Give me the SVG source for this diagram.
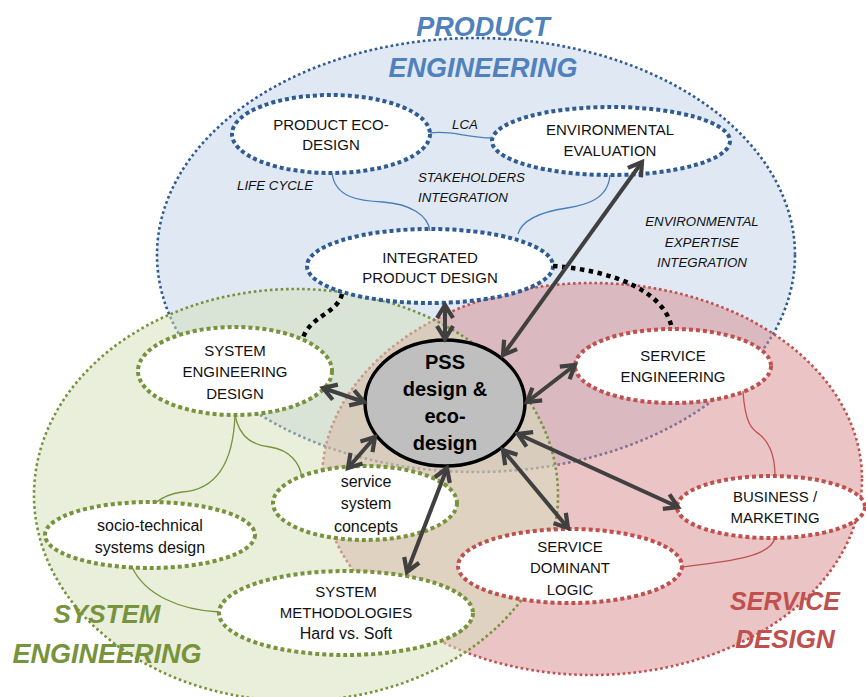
<svg xmlns="http://www.w3.org/2000/svg" width="866" height="697" viewBox="0 0 866 697">
<defs>
<style>
.area{stroke-width:2.6;stroke-dasharray:2.6 2.8}
.node{fill:#ffffff;stroke-width:4;stroke-dasharray:4 3}
.nb{stroke:#2f5b94}
.ng{stroke:#77933c}
.nr{stroke:#c0504d}
.t{font-family:"Liberation Sans",Arial,sans-serif;font-size:15px;fill:#111;text-anchor:middle}
.tl{font-family:"Liberation Sans",Arial,sans-serif;font-size:16px;fill:#111;text-anchor:middle}
.lab{font-family:"Liberation Sans",Arial,sans-serif;font-size:13.3px;font-style:italic;fill:#111}
.title{font-family:"Liberation Sans",Arial,sans-serif;font-weight:bold;font-style:italic;text-anchor:middle}
.pss{font-family:"Liberation Sans",Arial,sans-serif;font-size:20px;font-weight:bold;fill:#000;text-anchor:middle}
.thin{fill:none;stroke-width:1.3}
.arr{fill:none;stroke:#404040;stroke-width:4;marker-start:url(#ah);marker-end:url(#ah)}
.blk{fill:none;stroke:#000;stroke-width:4.5;stroke-dasharray:4.5 4.5}
</style>
<marker id="ah" markerUnits="userSpaceOnUse" viewBox="-16 -10 20 20" refX="0" refY="0" markerWidth="20" markerHeight="20" orient="auto-start-reverse">
<path d="M-13,-8 L0,0 L-13,8" fill="none" stroke="#404040" stroke-width="4.2" stroke-linejoin="miter"/>
</marker>
</defs>

<g id="areas">
<g id="area-product">
<ellipse cx="476" cy="255" rx="319" ry="217" fill="#4f81bd" fill-opacity="0.18" stroke="#2f5b94" class="area"/>
</g>
<g id="area-service">
<ellipse cx="592" cy="479" rx="270" ry="196" fill="#d7898d" fill-opacity="0.5" stroke="#c0504d" class="area"/>
</g>
<g id="area-system">
<ellipse cx="296" cy="495" rx="262" ry="206" fill="#d5dfb9" fill-opacity="0.5" stroke="#77933c" class="area"/>
</g>
</g>

<g id="titles">
<text class="title" x="483" y="36" font-size="27" fill="#4f81bd">PRODUCT</text>
<text class="title" x="483" y="77" font-size="27" fill="#4f81bd">ENGINEERING</text>
<text class="title" x="107" y="623" font-size="26" fill="#77933c">SYSTEM</text>
<text class="title" x="107" y="663" font-size="27" fill="#77933c">ENGINEERING</text>
<text class="title" x="785" y="610" font-size="25" fill="#c0504d">SERVICE</text>
<text class="title" x="785" y="648" font-size="26" fill="#c0504d">DESIGN</text>
</g>

<g id="labels">
<text class="lab" x="452" y="129" font-size="13.5">LCA</text>
<text class="lab" x="237" y="190">LIFE CYCLE</text>
<text class="lab" x="418" y="182">STAKEHOLDERS</text>
<text class="lab" x="418" y="202">INTEGRATION</text>
<text class="lab" x="702" y="226" text-anchor="middle" font-size="14.5">ENVIRONMENTAL</text>
<text class="lab" x="702" y="247" text-anchor="middle" font-size="14.5">EXPERTISE</text>
<text class="lab" x="702" y="267" text-anchor="middle" font-size="14.5">INTEGRATION</text>
</g>

<g id="node-eco-design">
<ellipse class="node nb" cx="331" cy="134" rx="99" ry="39"/>
<text class="t" x="331" y="130">PRODUCT ECO-</text>
<text class="t" x="331" y="150">DESIGN</text>
</g>
<g id="node-env-eval">
<ellipse class="node nb" cx="611" cy="141" rx="119" ry="34"/>
<text class="t" x="610" y="135">ENVIRONMENTAL</text>
<text class="t" x="610" y="156">EVALUATION</text>
</g>
<g id="node-integrated">
<ellipse class="node nb" cx="430" cy="266" rx="123" ry="37"/>
<text class="t" x="430" y="263">INTEGRATED</text>
<text class="t" x="430" y="283">PRODUCT DESIGN</text>
</g>
<g id="node-sed">
<ellipse class="node ng" cx="235" cy="371" rx="97" ry="44"/>
<text class="t" x="235" y="356">SYSTEM</text>
<text class="t" x="235" y="377">ENGINEERING</text>
<text class="t" x="235" y="399">DESIGN</text>
</g>
<g id="node-ssc">
<ellipse class="node ng" cx="365" cy="503" rx="92" ry="37"/>
<text class="tl" x="366" y="487">service</text>
<text class="tl" x="366" y="509">system</text>
<text class="tl" x="366" y="532">concepts</text>
</g>
<g id="node-socio">
<ellipse class="node ng" cx="150" cy="535" rx="105" ry="33"/>
<text class="tl" x="150" y="531">socio-technical</text>
<text class="tl" x="150" y="553">systems design</text>
</g>
<g id="node-sysmeth">
<ellipse class="node ng" cx="346" cy="613" rx="127" ry="42"/>
<text class="t" x="346" y="597">SYSTEM</text>
<text class="t" x="346" y="618">METHODOLOGIES</text>
<text class="tl" x="346" y="639">Hard vs. Soft</text>
</g>
<g id="node-service-eng">
<ellipse class="node nr" cx="673" cy="366" rx="98" ry="37"/>
<text class="t" x="673" y="361">SERVICE</text>
<text class="t" x="673" y="382">ENGINEERING</text>
</g>
<g id="node-business">
<ellipse class="node nr" cx="771" cy="507" rx="94" ry="31"/>
<text class="t" x="775" y="502">BUSINESS /</text>
<text class="t" x="775" y="523">MARKETING</text>
</g>
<g id="node-sdl">
<ellipse class="node nr" cx="570" cy="566" rx="112" ry="37"/>
<text class="t" x="570" y="552">SERVICE</text>
<text class="t" x="570" y="573">DOMINANT</text>
<text class="t" x="570" y="595">LOGIC</text>
</g>
<g id="node-pss">
<ellipse cx="445" cy="403" rx="80" ry="63" fill="#bfbfbf" stroke="#000" stroke-width="3.5"/>
<text class="pss" x="445" y="369">PSS</text>
<text class="pss" x="445" y="396">design &amp;</text>
<text class="pss" x="445" y="423">eco-</text>
<text class="pss" x="445" y="450">design</text>
</g>

<g id="connectors">
<path class="thin" stroke="#4a7ebb" d="M430,133 C452,130 466,138 492,138"/>
<path class="thin" stroke="#4a7ebb" d="M332,173 C335,198 360,201 383,202 C410,204 428,215 430,231"/>
<path class="thin" stroke="#4a7ebb" d="M610,175 C608,200 585,205 567,208 C540,212 522,220 518,234"/>
<path class="thin" stroke="#77933c" d="M235,415 C233,470 212,490 182,492 C168,494 160,499 155,503"/>
<path class="thin" stroke="#77933c" d="M235,415 C240,440 255,445 270,447 C290,450 300,463 302,478"/>
<path class="thin" stroke="#77933c" d="M132,567 C145,595 180,610 219,612"/>
<path class="thin" stroke="#c0504d" d="M743,391 C745,425 753,430 759,434 C769,442 775,455 775,476"/>
<path class="thin" stroke="#c0504d" d="M775,538 C770,558 722,562 681,567"/>
<path class="blk" d="M342,294 C338,313 310,316 303,338"/>
<path class="blk" d="M553,266 C610,270 665,290 672,329"/>
<path class="arr" d="M445,305 L445,339"/>
<path class="arr" d="M503,355 L642,162"/>
<path class="arr" d="M323,388 L364,402"/>
<path class="arr" d="M375,437 L348,468"/>
<path class="arr" d="M447,468 L407,572"/>
<path class="arr" d="M527,402 L575,365"/>
<path class="arr" d="M518,434 L678,507"/>
<path class="arr" d="M503,450 L568,528"/>
</g>
</svg>
